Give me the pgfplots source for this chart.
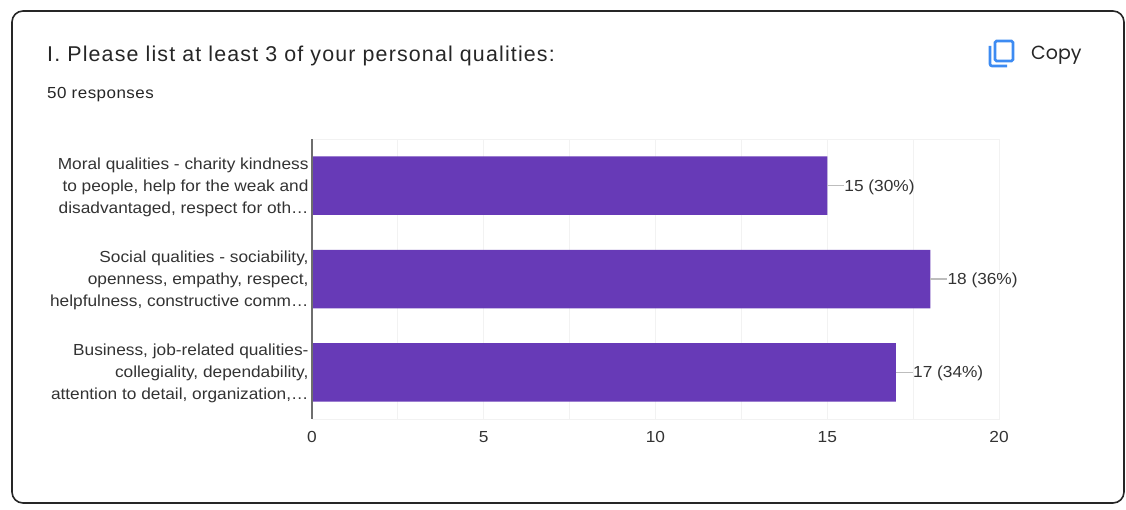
\documentclass[border=0pt]{standalone}
\usepackage{fontspec}
\setmainfont{Liberation Sans}
\newfontfamily\copyfont{Poppins}
\newfontfamily\labfont[FakeStretch=1.08]{Liberation Sans}
\newfontfamily\headfont[LetterSpace=5.4]{Liberation Sans}
\newfontfamily\subfont[FakeStretch=1.06,LetterSpace=3]{Liberation Sans}
\usepackage{pgfplots}
\pgfplotsset{compat=1.18}
\definecolor{barpurple}{HTML}{673AB7}
\definecolor{gridgrey}{HTML}{F2F2F2}
\definecolor{axisgrey}{HTML}{6E6E6E}
\definecolor{leadgrey}{HTML}{BDBDBD}
\definecolor{txt}{HTML}{333333}
\definecolor{copyblue}{HTML}{3D8BF2}
\newcommand{\lab}{\labfont\fontsize{16}{22}\selectfont}
\begin{document}
\begin{tikzpicture}[x=1pt,y=1pt]
% axis origin sits at pixel (312,419)
\useasboundingbox (-312,-90) rectangle (814,419);
\fill[white] (-312,-90) rectangle (814,419);
\draw[line width=1.6pt,draw=black!85,rounded corners=11pt] (-300,-84) rectangle (812,408);
\node[anchor=base west,inner sep=0pt,text=black!85] at (-265,357) {\headfont\fontsize{21.4}{24}\selectfont I. Please list at least 3 of your personal qualities:};
\node[anchor=base west,inner sep=0pt,text=black!85] at (-265,320) {\subfont\fontsize{16}{18}\selectfont 50 responses};
\node[anchor=base west,inner sep=0pt,text=black!85] at (719,359) {\fontsize{19}{22}\copyfont Copy};
% copy icon
\draw[copyblue,line width=2.6pt,rounded corners=1.5pt] (683,378) rectangle (701,358);
\draw[copyblue,line width=2.6pt,rounded corners=2pt] (678,373) -- (678,353) -- (695,353);
\begin{axis}[
    at={(0pt,0pt)},
    anchor=south west,
    scale only axis,
    width=687pt,
    height=280pt,
    xmin=0, xmax=20,
    ymin=-0.5, ymax=2.5,
    y dir=reverse,
    axis line style={gridgrey},
    major tick length=0pt,
    minor tick length=0pt,
    xtick={0,5,10,15,20},
    minor xtick={2.5,7.5,12.5,17.5},
    ytick={0,1,2},
    yticklabels={
        {Moral qualities - charity kindness\\to people, help for the weak and\\disadvantaged, respect for oth\dots},
        {Social qualities - sociability,\\openness, empathy, respect,\\helpfulness, constructive comm\dots},
        {Business, job-related qualities-\\collegiality, dependability,\\attention to detail, organization,\dots}},
    xmajorgrids,
    xminorgrids,
    major grid style={gridgrey,line width=1pt},
    minor grid style={gridgrey,line width=0.8pt},
    /pgf/number format/assume math mode=true,
    xticklabel style={font=\lab,text=txt,yshift=-9pt},
    yticklabel style={font=\lab,text=txt,align=right,yshift=-1.5pt},
    clip=false,
]
\addplot[xbar,bar width=58.5pt,bar shift=0pt,fill=barpurple,draw=none,
    nodes near coords,
    point meta=explicit symbolic,
    every node near coord/.append style={font=\lab,text=txt,anchor=west,xshift=16pt,yshift=-1.5pt,inner sep=1pt},
] table[meta=lab,col sep=comma] {
x,y,lab
15,0,15 (30\%)
18,1,18 (36\%)
17,2,17 (34\%)
};
% leader lines between each bar end and its label
\addplot[leadgrey,line width=1.4pt] coordinates {(15,0) (15.5,0)};
\addplot[leadgrey,line width=1.4pt] coordinates {(18,1) (18.5,1)};
\addplot[leadgrey,line width=1.4pt] coordinates {(17,2) (17.5,2)};
\draw[axisgrey,line width=1.2pt] (rel axis cs:0,0) -- (rel axis cs:0,1);
\end{axis}
\end{tikzpicture}
\end{document}
